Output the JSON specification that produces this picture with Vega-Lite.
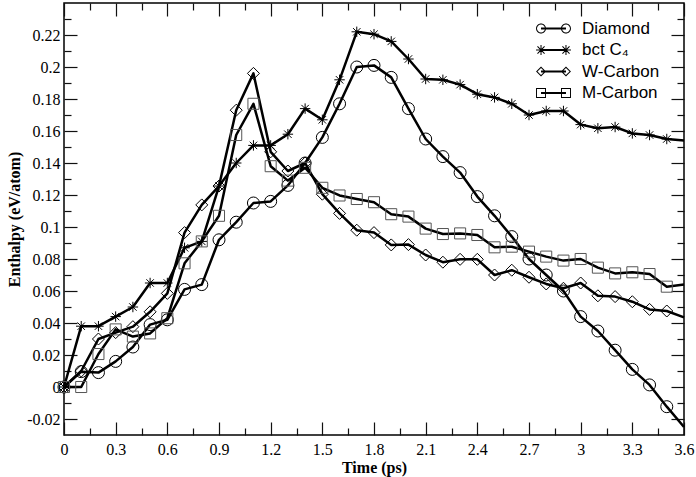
{
  "$schema": "https://vega.github.io/schema/vega-lite/v6.json",
  "width": 620,
  "height": 432,
  "autosize": {"type": "none"},
  "padding": {"left": 64, "top": 3, "right": 12, "bottom": 42},
  "background": "white",
  "config": {
    "view": {"stroke": "#000", "strokeWidth": 1.5},
    "axis": {
      "grid": false, "domain": false, "ticks": true,
      "labelFont": "Liberation Serif", "labelFontSize": 16, "labelColor": "#000",
      "titleFont": "Liberation Serif", "titleFontSize": 16, "titleFontWeight": "bold", "titleColor": "#000",
      "tickColor": "#111", "tickWidth": 1.2, "tickOpacity": 1,
      "labelFlush": false, "labelOverlap": false, "labelBound": false
    },
    "legend": {
      "orient": "none", "legendX": 481, "legendY": 17, "padding": 0,
      "labelFont": "Liberation Sans", "labelFontSize": 17, "labelColor": "#000",
      "symbolSize": 144, "labelOffset": 20, "rowPadding": 3.5,
      "symbolFillColor": "#000", "symbolStrokeColor": "transparent", "symbolStrokeWidth": 0
    }
  },
  "data": {"values": [
    {"t": 0, "Diamond": 0, "bct C₄": 0, "W-Carbon": 0, "M-Carbon": 0},
    {"t": 0.1, "Diamond": 0.0096, "bct C₄": 0.038, "W-Carbon": 0.01, "M-Carbon": 0.0},
    {"t": 0.2, "Diamond": 0.009, "bct C₄": 0.038, "W-Carbon": 0.030, "M-Carbon": 0.0206},
    {"t": 0.3, "Diamond": 0.016, "bct C₄": 0.044, "W-Carbon": 0.034, "M-Carbon": 0.036},
    {"t": 0.4, "Diamond": 0.025, "bct C₄": 0.050, "W-Carbon": 0.0377, "M-Carbon": 0.0315},
    {"t": 0.5, "Diamond": 0.039, "bct C₄": 0.065, "W-Carbon": 0.047, "M-Carbon": 0.0335},
    {"t": 0.6, "Diamond": 0.042, "bct C₄": 0.065, "W-Carbon": 0.0585, "M-Carbon": 0.043},
    {"t": 0.7, "Diamond": 0.061, "bct C₄": 0.087, "W-Carbon": 0.0965, "M-Carbon": 0.0773},
    {"t": 0.8, "Diamond": 0.064, "bct C₄": 0.091, "W-Carbon": 0.1138, "M-Carbon": 0.091},
    {"t": 0.9, "Diamond": 0.092, "bct C₄": 0.1256, "W-Carbon": 0.1256, "M-Carbon": 0.107},
    {"t": 1.0, "Diamond": 0.103, "bct C₄": 0.140, "W-Carbon": 0.173, "M-Carbon": 0.1575},
    {"t": 1.1, "Diamond": 0.115, "bct C₄": 0.151, "W-Carbon": 0.196, "M-Carbon": 0.177},
    {"t": 1.2, "Diamond": 0.116, "bct C₄": 0.151, "W-Carbon": 0.147, "M-Carbon": 0.138},
    {"t": 1.3, "Diamond": 0.126, "bct C₄": 0.158, "W-Carbon": 0.135, "M-Carbon": 0.129},
    {"t": 1.4, "Diamond": 0.140, "bct C₄": 0.174, "W-Carbon": 0.140, "M-Carbon": 0.137},
    {"t": 1.5, "Diamond": 0.156, "bct C₄": 0.167, "W-Carbon": 0.1205, "M-Carbon": 0.1245},
    {"t": 1.6, "Diamond": 0.177, "bct C₄": 0.192, "W-Carbon": 0.1085, "M-Carbon": 0.1197},
    {"t": 1.7, "Diamond": 0.200, "bct C₄": 0.222, "W-Carbon": 0.098, "M-Carbon": 0.1175},
    {"t": 1.8, "Diamond": 0.201, "bct C₄": 0.2205, "W-Carbon": 0.0965, "M-Carbon": 0.1155},
    {"t": 1.9, "Diamond": 0.1935, "bct C₄": 0.216, "W-Carbon": 0.0888, "M-Carbon": 0.108},
    {"t": 2.0, "Diamond": 0.174, "bct C₄": 0.205, "W-Carbon": 0.089, "M-Carbon": 0.1065},
    {"t": 2.1, "Diamond": 0.155, "bct C₄": 0.1925, "W-Carbon": 0.0825, "M-Carbon": 0.099},
    {"t": 2.2, "Diamond": 0.144, "bct C₄": 0.192, "W-Carbon": 0.078, "M-Carbon": 0.0956},
    {"t": 2.3, "Diamond": 0.134, "bct C₄": 0.189, "W-Carbon": 0.0798, "M-Carbon": 0.096},
    {"t": 2.4, "Diamond": 0.119, "bct C₄": 0.183, "W-Carbon": 0.0798, "M-Carbon": 0.095},
    {"t": 2.5, "Diamond": 0.107, "bct C₄": 0.181, "W-Carbon": 0.070, "M-Carbon": 0.0873},
    {"t": 2.6, "Diamond": 0.094, "bct C₄": 0.177, "W-Carbon": 0.073, "M-Carbon": 0.0877},
    {"t": 2.7, "Diamond": 0.080, "bct C₄": 0.170, "W-Carbon": 0.0686, "M-Carbon": 0.0846},
    {"t": 2.8, "Diamond": 0.070, "bct C₄": 0.1725, "W-Carbon": 0.0644, "M-Carbon": 0.0815},
    {"t": 2.9, "Diamond": 0.060, "bct C₄": 0.1725, "W-Carbon": 0.0617, "M-Carbon": 0.079},
    {"t": 3.0, "Diamond": 0.044, "bct C₄": 0.164, "W-Carbon": 0.065, "M-Carbon": 0.080},
    {"t": 3.1, "Diamond": 0.035, "bct C₄": 0.1617, "W-Carbon": 0.057, "M-Carbon": 0.0746},
    {"t": 3.2, "Diamond": 0.023, "bct C₄": 0.1625, "W-Carbon": 0.0565, "M-Carbon": 0.071},
    {"t": 3.3, "Diamond": 0.011, "bct C₄": 0.1585, "W-Carbon": 0.0533, "M-Carbon": 0.0717},
    {"t": 3.4, "Diamond": 0.0013, "bct C₄": 0.1575, "W-Carbon": 0.0485, "M-Carbon": 0.0706},
    {"t": 3.5, "Diamond": -0.0123, "bct C₄": 0.155, "W-Carbon": 0.0475, "M-Carbon": 0.0627},
    {"t": 3.6, "Diamond": -0.025, "bct C₄": 0.154, "W-Carbon": 0.0435, "M-Carbon": 0.064}
  ]},
  "transform": [{"fold": ["Diamond", "bct C₄", "W-Carbon", "M-Carbon"], "as": ["series", "h"]}],
  "layer": [
    {
      "mark": {"type": "line", "color": "#000", "strokeWidth": 2.5, "strokeJoin": "round"},
      "encoding": {
        "x": {"field": "t", "type": "quantitative",
          "scale": {"domain": [0, 3.6], "nice": false, "zero": false},
          "axis": {"orient": "bottom", "title": "Time (ps)", "titlePadding": 2, "offset": -13, "tickSize": 13, "labelPadding": 6, "ticks": true,
            "values": [0,0.3,0.6,0.9,1.2,1.5,1.8,2.1,2.4,2.7,3,3.3,3.6],
            "labelExpr": "toString(round(datum.value*10)/10)"}},
        "y": {"field": "h", "type": "quantitative",
          "scale": {"domain": [-0.03, 0.24], "nice": false, "zero": false},
          "axis": {"orient": "left", "title": "Enthalpy (eV/atom)", "titlePadding": 4, "offset": -13, "tickSize": 13, "labelPadding": 4, "ticks": true,
            "values": [-0.02,0,0.02,0.04,0.06,0.08,0.1,0.12,0.14,0.16,0.18,0.2,0.22],
            "labelExpr": "toString(round(datum.value*100)/100)"}},
        "detail": {"field": "series"}
      }
    },
    {
      "transform": [{"filter": "datum.t < 3.55"}],
      "mark": {"type": "point", "filled": false, "strokeWidth": 1, "opacity": 1, "size": 144},
      "encoding": {
        "x": {"field": "t", "type": "quantitative",
          "axis": {"orient": "top", "title": null, "labels": false, "offset": -13, "tickSize": 13, "ticks": true,
            "values": [0,0.3,0.6,0.9,1.2,1.5,1.8,2.1,2.4,2.7,3,3.3,3.6]}},
        "y": {"field": "h", "type": "quantitative",
          "axis": {"orient": "right", "title": null, "labels": false, "offset": -13, "tickSize": 13, "ticks": true,
            "values": [-0.02,0,0.02,0.04,0.06,0.08,0.1,0.12,0.14,0.16,0.18,0.2,0.22]}},
        "shape": {"field": "series", "type": "nominal",
          "scale": {"domain": ["Diamond", "bct C₄", "W-Carbon", "M-Carbon"],
            "range": ["circle", "M-0.87,0L0.87,0M0,-0.87L0,0.87M-0.62,-0.62L0.62,0.62M-0.62,0.62L0.62,-0.62", "diamond", "M-0.92,-0.92L0.92,-0.92L0.92,0.92L-0.92,0.92Z"]},
          "legend": null},
        "stroke": {"field": "series", "type": "nominal",
          "scale": {"domain": ["Diamond", "bct C₄", "W-Carbon", "M-Carbon"], "range": ["#000", "#000", "#000", "#555"]},
          "legend": null}
      }
    },
    {
      "transform": [{"filter": "datum.t > 100"}],
      "mark": {"type": "point", "filled": true, "color": "#000", "opacity": 1},
      "encoding": {
        "x": {"field": "t", "type": "quantitative",
          "axis": {"orient": "bottom", "title": null, "labels": false, "offset": -7, "tickSize": 7, "ticks": true,
            "values": [0.15,0.45,0.75,1.05,1.35,1.65,1.95,2.25,2.55,2.85,3.15,3.45]}},
        "y": {"field": "h", "type": "quantitative",
          "axis": {"orient": "left", "title": null, "labels": false, "offset": -7, "tickSize": 7, "ticks": true,
            "values": [-0.01,0.01,0.03,0.05,0.07,0.09,0.11,0.13,0.15,0.17,0.19,0.21,0.23]}},
        "shape": {"field": "series", "type": "nominal",
          "scale": {"domain": ["Diamond", "bct C₄", "W-Carbon", "M-Carbon"],
            "range": [
              "M-2.08,-0.17L2.08,-0.17L2.08,0.17L-2.08,0.17ZM-1.25,0A0.83,0.83,0,1,1,-2.91,0A0.83,0.83,0,1,1,-1.25,0ZM-1.41,0A0.67,0.67,0,1,0,-2.75,0A0.67,0.67,0,1,0,-1.41,0ZM2.91,0A0.83,0.83,0,1,1,1.25,0A0.83,0.83,0,1,1,2.91,0ZM2.75,0A0.67,0.67,0,1,0,1.41,0A0.67,0.67,0,1,0,2.75,0Z",
              "M-2.08,-0.17L2.08,-0.17L2.08,0.17L-2.08,0.17ZM-2.91,-0.085L-1.25,-0.085L-1.25,0.085L-2.91,0.085ZM-2.165,-0.83L-1.995,-0.83L-1.995,0.83L-2.165,0.83ZM-2.61,-0.65L-1.43,0.53L-1.55,0.65L-2.73,-0.53ZM-2.73,0.53L-1.55,-0.65L-1.43,-0.53L-2.61,0.65ZM1.25,-0.085L2.91,-0.085L2.91,0.085L1.25,0.085ZM1.995,-0.83L2.165,-0.83L2.165,0.83L1.995,0.83ZM1.55,-0.65L2.73,0.53L2.61,0.65L1.43,-0.53ZM1.43,0.53L2.61,-0.65L2.73,-0.53L1.55,0.65Z",
              "M-2.08,-0.17L2.08,-0.17L2.08,0.17L-2.08,0.17ZM-2.08,-0.83L-1.25,0L-2.08,0.83L-2.91,0ZM-2.08,-0.59L-2.67,0L-2.08,0.59L-1.49,0ZM2.08,-0.83L2.91,0L2.08,0.83L1.25,0ZM2.08,-0.59L1.49,0L2.08,0.59L2.67,0Z",
              "M-2.08,-0.17L2.08,-0.17L2.08,0.17L-2.08,0.17ZM-2.91,-0.83L-1.25,-0.83L-1.25,0.83L-2.91,0.83ZM-2.75,-0.67L-2.75,0.67L-1.41,0.67L-1.41,-0.67ZM1.25,-0.83L2.91,-0.83L2.91,0.83L1.25,0.83ZM1.41,-0.67L1.41,0.67L2.75,0.67L2.75,-0.67Z"
            ]},
          "legend": {"title": null}}
      }
    },
    {
      "transform": [{"filter": "datum.t > 100"}],
      "mark": {"type": "point", "opacity": 0},
      "encoding": {
        "x": {"field": "t", "type": "quantitative",
          "axis": {"orient": "top", "title": null, "labels": false, "offset": -7, "tickSize": 7, "ticks": true,
            "values": [0.15,0.45,0.75,1.05,1.35,1.65,1.95,2.25,2.55,2.85,3.15,3.45]}},
        "y": {"field": "h", "type": "quantitative",
          "axis": {"orient": "right", "title": null, "labels": false, "offset": -7, "tickSize": 7, "ticks": true,
            "values": [-0.01,0.01,0.03,0.05,0.07,0.09,0.11,0.13,0.15,0.17,0.19,0.21,0.23]}}
      }
    }
  ],
  "resolve": {"scale": {"shape": "independent"}, "axis": {"x": "independent", "y": "independent"}}
}
